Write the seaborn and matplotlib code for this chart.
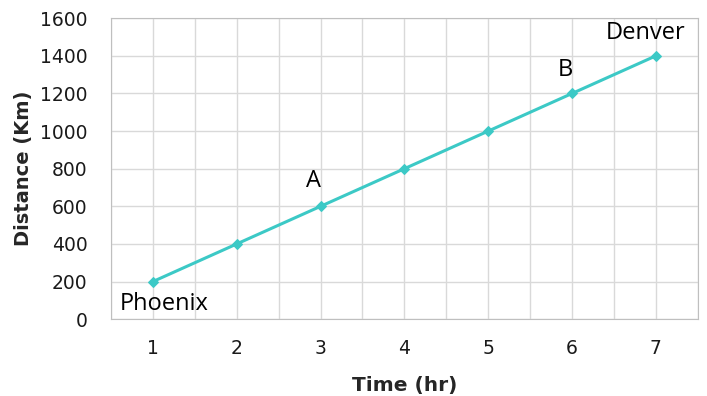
import matplotlib
matplotlib.use("Agg")
import matplotlib.pyplot as plt
import seaborn as sns
import pandas as pd
import numpy as np

# data
hours = [1, 2, 3, 4, 5, 6, 7]
distance_km = [200, 400, 600, 800, 1000, 1200, 1400]
point_labels = {1: "Phoenix", 3: "A", 6: "B", 7: "Denver"}

df = pd.DataFrame({"Time (hr)": hours, "Distance (Km)": distance_km})

sns.set_style("white")
plt.rcParams["font.family"] = ["DejaVu Sans"]

fig = plt.figure(figsize=(7.07, 3.96), dpi=100)
ax = fig.add_axes([0.157, 0.194, 0.830, 0.760])

line_color = "#3cc9c6"
sns.lineplot(data=df, x="Time (hr)", y="Distance (Km)", ax=ax,
             color=line_color, linewidth=2.2, marker="D", markersize=5,
             markeredgecolor=line_color, zorder=3)

ax.set_xlim(0.5, 7.5)
ax.set_ylim(0, 1600)
ax.set_xticks(hours)
ax.set_xticks(np.arange(0.5, 7.6, 1), minor=True)
ax.set_yticks(range(0, 1601, 200))
ax.grid(True, which="both", color="#d9d9d9", linewidth=1)
ax.tick_params(axis="x", which="both", length=0, pad=14, labelsize=13.5, colors="#1a1a1a")
ax.tick_params(axis="y", length=5, color="#bbbbbb", pad=12, labelsize=13.5, labelcolor="#1a1a1a")
for s in ax.spines.values():
    s.set_color("#bfbfbf")

ax.set_xlabel("Time (hr)", fontsize=14.5, fontweight="bold", labelpad=13)
ax.set_ylabel("Distance (Km)", fontsize=14, fontweight="bold", labelpad=5)

# point annotations
offsets = {1: (-0.4, -120, "left"), 3: (-0.08, 135, "center"),
           6: (-0.08, 125, "center"), 7: (-0.12, 120, "center")}
for x, name in point_labels.items():
    dx, dy, ha = offsets[x]
    y = distance_km[hours.index(x)]
    ax.text(x + dx, y + dy, name, fontsize=17, ha=ha, va="center",
            family=["Open Sans", "DejaVu Sans"], color="black")

fig.savefig("out.png", dpi=100)
